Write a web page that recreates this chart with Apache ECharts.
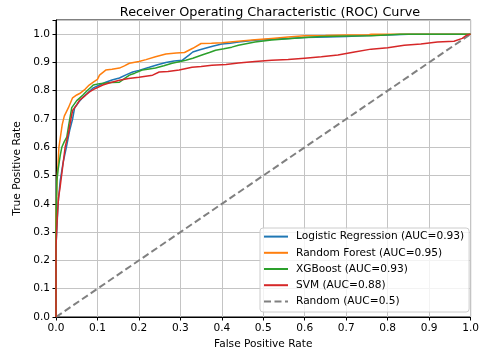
<!DOCTYPE html>
<html>
<head>
<meta charset="utf-8">
<script src="https://cdn.jsdelivr.net/npm/echarts@6/dist/echarts.min.js"></script>
<style>
html,body{margin:0;padding:0;background:#fff;}
#chart{width:482px;height:356px;}
</style>
</head>
<body>
<div id="chart"></div>
<script>
const titleText = 'Receiver Operating Characteristic (ROC) Curve';
const seriesNames = ['Logistic Regression (AUC=0.93)', 'Random Forest (AUC=0.95)', 'XGBoost (AUC=0.93)', 'SVM (AUC=0.88)', 'Random (AUC=0.5)'];
const seriesColors = ['#1f77b4', '#ff7f0e', '#2ca02c', '#d62728', '#808080'];

const lrFpr = [0,0,.005,.01,.017,.025,.033,.04,.045,.055, .065,.075,.09,.105,.12,.135,.153,.17,.185,.2, .225,.245,.265,.285,.305,.32,.33,.345,.36,.38, .4,.42,.44,.48,.52,.56,.6,.655,.7,.75, .8,.85,1.0];
const lrTpr = [0,.25,.4,.48,.545,.6,.66,.7,.74,.76, .777,.79,.81,.82,.83,.838,.845,.857,.866,.872, .883,.892,.9,.905,.908,.925,.937,.944,.95,.958, .965,.968,.972,.978,.982,.985,.988,.99,.992,.995, .997,1.0,1.0];

const rfFpr = [0,0,.003,.005,.007,.01,.015,.02,.03,.04, .05,.057,.07,.08,.09,.1,.105,.12,.135,.153, .165,.177,.2,.217,.24,.265,.29,.31,.33,.35, .375,.4,.44,.48,.52,.56,.6,.65,.7,.755, .76,1.0];
const rfTpr = [0,.35,.5,.54,.6,.63,.68,.71,.74,.775, .785,.79,.805,.82,.83,.84,.855,.873,.876,.88, .888,.897,.903,.91,.92,.93,.933,.935,.95,.967, .968,.97,.975,.98,.985,.99,.994,.995,.997,.998, 1.0,1.0];

const xgbFpr = [0,0,.002,.005,.01,.014,.02,.026,.032,.038, .05,.065,.075,.09,.105,.12,.135,.153,.165,.177, .19,.208,.225,.24,.26,.28,.3,.313,.33,.352, .37,.385,.405,.424,.44,.48,.52,.56,.6,.64, .7,.76,.83,1.0];
const xgbTpr = [0,.3,.48,.52,.57,.6,.62,.636,.69,.74, .765,.785,.8,.82,.825,.827,.829,.83,.843,.855, .862,.873,.877,.88,.888,.897,.903,.908,.915,.926, .935,.943,.948,.954,.961,.972,.979,.984,.988,.992, .993,.994,1.0,1.0];

const svmFpr = [0,0,.003,.006,.01,.016,.022,.03,.036,.04, .05,.057,.07,.08,.095,.113,.13,.153,.175,.2, .233,.249,.27,.297,.328,.35,.376,.41,.44,.48, .52,.56,.6,.64,.68,.72,.76,.8,.84,.88, .92,.96,.98,.99,1.0];
const svmTpr = [0,.25,.35,.42,.46,.53,.6,.65,.7,.73, .75,.767,.782,.795,.808,.82,.828,.837,.843,.848, .855,.866,.868,.873,.883,.886,.89,.893,.898,.903, .908,.91,.915,.92,.926,.937,.947,.952,.961,.965, .972,.975,.985,.996,1.0];

const randFpr = [0, 1];
const randTpr = [0, 1];

function zip(a, b) { return a.map((v, i) => [v, b[i]]); }

const FONT = 'DejaVu Sans';
const chart = echarts.init(document.getElementById('chart'), null, {renderer: 'canvas'});

const curveSets = [[lrFpr, lrTpr], [rfFpr, rfTpr], [xgbFpr, xgbTpr], [svmFpr, svmTpr]];
const series = curveSets.map((c, i) => ({
  name: seriesNames[i],
  type: 'line',
  data: zip(c[0], c[1]),
  symbol: 'none',
  lineStyle: {color: seriesColors[i], width: 1.5},
  itemStyle: {color: seriesColors[i]},
  z: 3 + i,
  animation: false
}));
series.push({
  name: seriesNames[4],
  type: 'line',
  data: zip(randFpr, randTpr),
  symbol: 'none',
  lineStyle: {color: seriesColors[4], width: 2, type: [7, 3.5]},
  itemStyle: {color: seriesColors[4]},
  z: 2,
  animation: false
});

chart.setOption({
  animation: false,
  backgroundColor: '#fff',
  textStyle: {fontFamily: FONT},
  title: {
    text: titleText,
    left: 265, top: 1, textAlign: 'center',
    textStyle: {fontFamily: FONT, fontSize: 12.8, fontWeight: 'normal', color: '#000'}
  },
  grid: {left: 56, right: 9, top: 20, bottom: 39, show: true, borderColor: '#000', borderWidth: 1, backgroundColor: 'transparent'},
  legend: {
    orient: 'vertical',
    left: 260, top: 228,
    padding: [3, 5, 5, 3],
    itemWidth: 24, itemHeight: 14, itemGap: 5,
    backgroundColor: 'rgba(255,255,255,0.8)',
    borderColor: '#cccccc', borderWidth: 1, borderRadius: 3,
    itemStyle: {opacity: 0},
    textStyle: {fontFamily: FONT, fontSize: 10.6, color: '#000', padding: [0, 0, 0, 3]},
    data: seriesNames
  },
  xAxis: {
    type: 'value', min: 0, max: 1, interval: 0.1,
    name: 'False Positive Rate', nameLocation: 'middle', nameGap: 21,
    nameTextStyle: {fontFamily: FONT, fontSize: 10.6, color: '#000'},
    axisLine: {show: true, onZero: false, lineStyle: {color: '#000', width: 1}},
    axisTick: {show: true, length: 3.5, lineStyle: {color: '#000'}},
    axisLabel: {fontFamily: FONT, fontSize: 10.6, color: '#000', margin: 6, formatter: v => v.toFixed(1)},
    splitLine: {show: true, lineStyle: {color: '#c4c4c4', width: 1}}
  },
  yAxis: {
    type: 'value', min: 0, max: 1.05, interval: 0.1,
    name: 'True Positive Rate', nameLocation: 'middle', nameGap: 28,
    nameTextStyle: {fontFamily: FONT, fontSize: 10.6, color: '#000'},
    axisLine: {show: true, onZero: false, lineStyle: {color: '#000', width: 1}},
    axisTick: {show: true, length: 3.5, lineStyle: {color: '#000'}},
    axisLabel: {fontFamily: FONT, fontSize: 10.6, color: '#000', margin: 6, formatter: v => (v > 1.001 ? '' : v.toFixed(1))},
    splitLine: {show: true, lineStyle: {color: '#c4c4c4', width: 1}}
  },
  series: series
});
</script>
</body>
</html>
